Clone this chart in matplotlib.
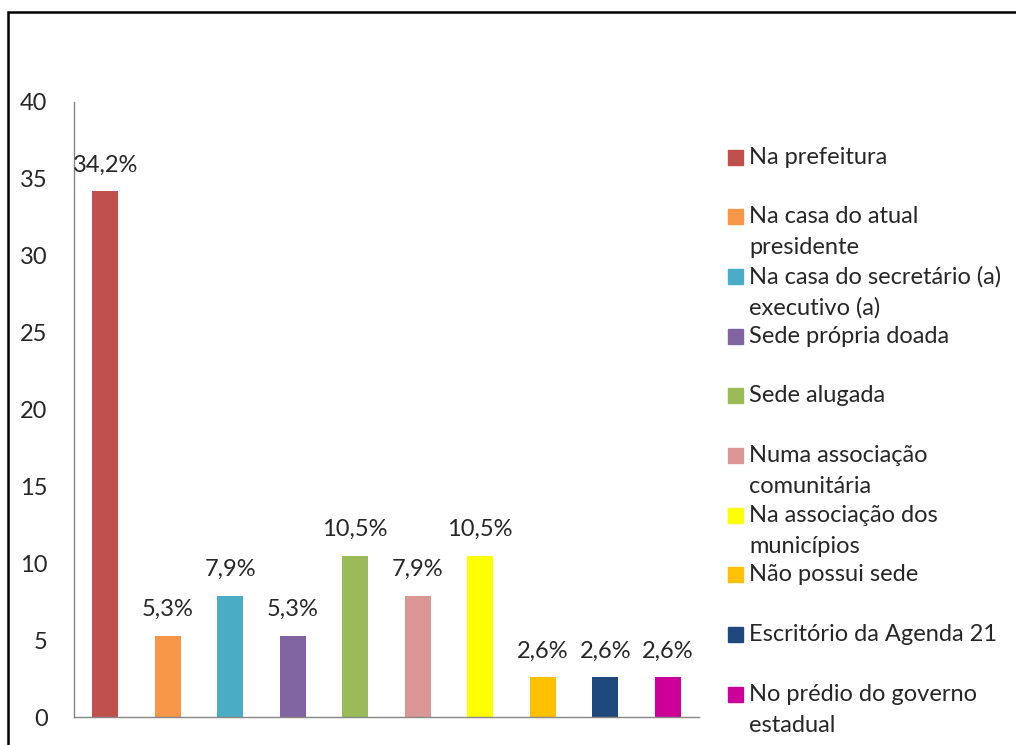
import matplotlib.pyplot as plt
from matplotlib.patches import Rectangle
import numpy as np

categorias = [
    "Na prefeitura",
    "Na casa do atual\npresidente",
    "Na casa do secretário (a)\nexecutivo (a)",
    "Sede própria doada",
    "Sede alugada",
    "Numa associação\ncomunitária",
    "Na associação dos\nmunicípios",
    "Não possui sede",
    "Escritório da Agenda 21",
    "No prédio do governo\nestadual",
]
valores = [34.2, 5.3, 7.9, 5.3, 10.5, 7.9, 10.5, 2.6, 2.6, 2.6]
rotulos = ["34,2%", "5,3%", "7,9%", "5,3%", "10,5%", "7,9%", "10,5%", "2,6%", "2,6%", "2,6%"]
cores = ["#C0504D", "#F79646", "#4BACC6", "#8064A2", "#9BBB59",
         "#D99694", "#FFFF00", "#FFC000", "#1F497D", "#CC0099"]

plt.rcParams['font.family'] = ['Lato', 'DejaVu Sans']
fs = 17

W, H = 1016, 745
fig = plt.figure(figsize=(W / 100, H / 100), dpi=100)
ax = fig.add_axes([74 / W, 1 - 717 / H, 625 / W, 615 / H])

x = np.arange(len(valores))
ax.bar(x, valores, width=0.42, color=cores)
for xi, v, r in zip(x, valores, rotulos):
    ax.annotate(r, (xi, v), xytext=(0, 11), textcoords='offset points',
                ha='center', va='bottom', fontsize=fs, color='#262626')

ax.set_xlim(-0.5, len(valores) - 0.5)
ax.set_ylim(0, 40)
ax.set_yticks(range(0, 41, 5))
ax.set_xticks([])
ax.tick_params(axis='y', length=0, pad=19, labelsize=fs, labelcolor='#262626')
for s in ['top', 'right']:
    ax.spines[s].set_visible(False)
for s in ['left', 'bottom']:
    ax.spines[s].set_color('#868686')
    ax.spines[s].set_linewidth(1)

# legenda manual
y0 = 157
passo = 59.7
for i, (cat, cor) in enumerate(zip(categorias, cores)):
    yc = y0 + i * passo
    fig.add_artist(Rectangle((728 / W, 1 - (yc + 7.5) / H), 15 / W, 15 / H,
                             transform=fig.transFigure, color=cor))
    for j, linha in enumerate(cat.split("\n")):
        fig.text(749 / W, 1 - (yc + j * 31) / H, linha, ha='left', va='center',
                 fontsize=fs, color='#262626')

# moldura
fig.add_artist(Rectangle((8 / W, -0.1), 1.2, 1.1 - 12 / H, transform=fig.transFigure,
                         fill=False, edgecolor='black', linewidth=1.8))

fig.savefig("out.png", dpi=100)
